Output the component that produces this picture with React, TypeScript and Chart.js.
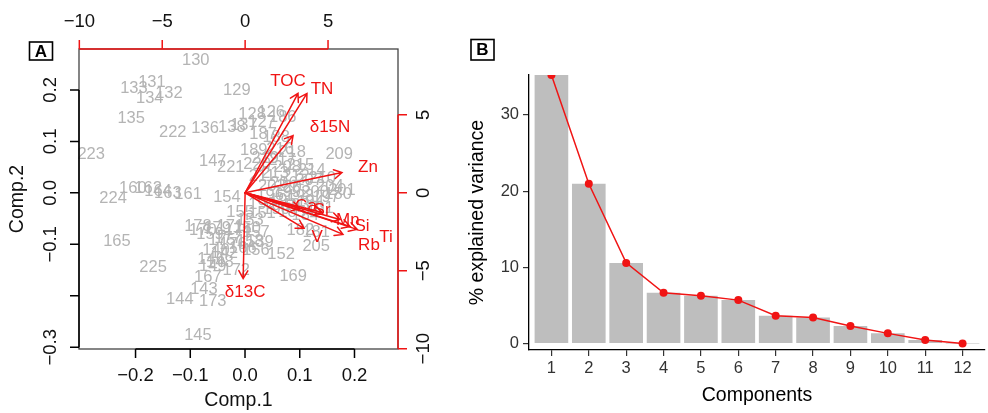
import { useEffect, useRef } from 'react';
import { Chart, registerables } from 'chart.js';

Chart.register(...registerables);

const FONT = '"Liberation Sans", Arial, Helvetica, sans-serif';
const RED = '#f01414';
const SAMPLE_GREY = '#b4b4b4';

// ---- Panel A: PCA biplot ----
const sampleIds = [
  '130', '131', '133', '134', '132', '129', '135', '222', '136', '138',
  '223', '147', '221', '154', '161', '163', '164', '162', '160', '224',
  '165', '225', '167', '143', '144', '173', '145', '169', '152', '205',
  '209', '128', '126', '127', '137', '187', '188', '189', '216', '218',
  '219', '220', '217', '215', '214', '208', '213', '212', '211', '210',
  '207', '206', '204', '203', '202', '201', '200', '199', '198', '197',
  '196', '195', '194', '193', '192', '191', '190', '185', '184', '182',
  '181', '180', '151', '155', '153', '150', '157', '158', '139', '156',
  '166', '178', '170', '159', '179', '171', '174', '177', '175', '176',
  '146', '148', '149', '172', '142', '140', '186',
];
const comp1 = [
  -0.090, -0.170, -0.203, -0.174, -0.139, -0.015, -0.208, -0.132, -0.073, -0.024,
  -0.281, -0.059, -0.026, -0.033, -0.104, -0.141, -0.159, -0.177, -0.205, -0.241,
  -0.234, -0.168, -0.068, -0.075, -0.119, -0.059, -0.086, 0.088, 0.066, 0.130,
  0.172, 0.013, 0.048, 0.031, -0.002, 0.033, 0.057, 0.016, 0.064, 0.086,
  0.037, 0.022, 0.068, 0.101, 0.122, 0.077, 0.055, 0.093, 0.031, 0.141,
  0.117, 0.071, 0.155, 0.095, 0.049, 0.177, 0.128, 0.077, 0.101, 0.148,
  0.046, 0.069, 0.119, 0.093, 0.031, 0.137, 0.057, 0.086, 0.110, 0.101,
  0.130, 0.170, 0.031, -0.009, 0.009, 0.004, 0.020, 0.009, 0.027, 0.020,
  -0.004, -0.086, -0.077, -0.064, -0.051, -0.027, -0.013, -0.031, -0.042, -0.022,
  -0.062, -0.046, -0.059, -0.016, -0.038, -0.053, 0.069,
];
const comp2 = [
  0.257, 0.214, 0.203, 0.184, 0.193, 0.199, 0.144, 0.117, 0.125, 0.127,
  0.074, 0.061, 0.049, -0.009, -0.003, -0.001, 0.003, 0.008, 0.008, -0.011,
  -0.095, -0.145, -0.165, -0.188, -0.207, -0.211, -0.277, -0.163, -0.120, -0.104,
  0.074, 0.152, 0.156, 0.137, 0.131, 0.113, 0.107, 0.082, 0.084, 0.078,
  0.067, 0.055, 0.063, 0.053, 0.043, 0.049, 0.038, 0.032, 0.032, 0.028,
  0.024, 0.018, 0.012, 0.010, 0.012, 0.005, 0.001, 0.001, -0.007, -0.009,
  -0.005, -0.015, -0.019, -0.025, -0.023, -0.031, -0.032, -0.038, -0.044, -0.073,
  -0.077, -0.003, -0.040, -0.038, -0.054, -0.069, -0.077, -0.095, -0.097, -0.112,
  -0.108, -0.066, -0.073, -0.081, -0.069, -0.066, -0.073, -0.089, -0.093, -0.100,
  -0.130, -0.135, -0.143, -0.151, -0.118, -0.112, 0.146,
];

const variables = ['TOC', 'TN', 'δ15N', 'δ13C', 'Zn', 'V', 'Ca', 'Sr', 'Mn', 'Si', 'Rb', 'Ti'];
// arrow tips on the loading axes (top / right)
const loadingX = [3.19, 3.73, 2.89, -0.12, 5.84, 3.55, 3.31, 4.64, 5.72, 6.33, 5.90, 6.75];
const loadingY = [6.37, 6.37, 3.67, -5.50, 1.30, -2.28, -1.01, -1.26, -1.71, -2.16, -2.67, -2.35];
// where each variable name sits, same units
const varLabelX = [2.59, 4.64, 5.12, 0.0, 7.41, 4.34, 3.67, 4.64, 6.20, 7.05, 7.47, 8.49];
const varLabelY = [7.13, 6.62, 4.19, -6.39, 1.62, -2.85, -0.88, -1.14, -1.78, -2.16, -3.38, -2.85];

const compTicks = [-0.2, -0.1, 0.0, 0.1, 0.2];
const compTickLabels = ['\u22120.2', '\u22120.1', '0.0', '0.1', '0.2'];
const comp2Ticks = [0.2, 0.1, 0.0, -0.1, -0.2, -0.3];
const comp2TickLabels = ['0.2', '0.1', '0.0', '\u22120.1', '', '\u22120.3'];
const loadTicks = [-10, -5, 0, 5];
const loadTickLabels = ['\u221210', '\u22125', '0', '5'];

// ---- Panel B: scree plot ----
const components = [1, 2, 3, 4, 5, 6, 7, 8, 9, 10, 11, 12];
const explainedVariance = [35.22, 20.97, 10.59, 6.67, 6.28, 5.71, 3.66, 3.44, 2.31, 1.35, 0.48, 0.03];

function panelTag(letter: string, x: number, y: number, w: number, h: number) {
  return {
    id: 'panelTag' + letter,
    afterDraw(chart: any) {
      const ctx = chart.ctx;
      ctx.save();
      ctx.strokeStyle = '#000';
      ctx.lineWidth = 1.6;
      ctx.strokeRect(x, y, w, h);
      ctx.fillStyle = '#000';
      ctx.font = `bold 17px ${FONT}`;
      ctx.textAlign = 'center';
      ctx.textBaseline = 'middle';
      ctx.fillText(letter, x + w / 2, y + h / 2 + 1);
      ctx.restore();
    },
  };
}

function rotatedText(ctx: CanvasRenderingContext2D, text: string, x: number, y: number) {
  ctx.save();
  ctx.translate(x, y);
  ctx.rotate(-Math.PI / 2);
  ctx.textAlign = 'center';
  ctx.textBaseline = 'middle';
  ctx.fillText(text, 0, 0);
  ctx.restore();
}

const biplotLayer = {
  id: 'biplotLayer',
  afterDraw(chart: any) {
    const ctx: CanvasRenderingContext2D = chart.ctx;
    const { x, y, x2, y2 } = chart.scales;
    const area = chart.chartArea;
    ctx.save();

    // sample names
    ctx.font = `16.5px ${FONT}`;
    ctx.fillStyle = SAMPLE_GREY;
    ctx.textAlign = 'center';
    ctx.textBaseline = 'middle';
    chart.getDatasetMeta(0).data.forEach((pt: any, i: number) => {
      ctx.fillText(sampleIds[i], pt.x, pt.y);
    });

    // loading arrows
    const ox = x2.getPixelForValue(0);
    const oy = y2.getPixelForValue(0);
    ctx.strokeStyle = RED;
    ctx.lineWidth = 1.5;
    ctx.lineCap = 'round';
    const head = 9;
    chart.getDatasetMeta(1).data.forEach((pt: any) => {
      const ang = Math.atan2(pt.y - oy, pt.x - ox);
      ctx.beginPath();
      ctx.moveTo(ox, oy);
      ctx.lineTo(pt.x, pt.y);
      ctx.moveTo(pt.x - head * Math.cos(ang - Math.PI / 6), pt.y - head * Math.sin(ang - Math.PI / 6));
      ctx.lineTo(pt.x, pt.y);
      ctx.lineTo(pt.x - head * Math.cos(ang + Math.PI / 6), pt.y - head * Math.sin(ang + Math.PI / 6));
      ctx.stroke();
    });
    ctx.font = `17px ${FONT}`;
    ctx.fillStyle = RED;
    variables.forEach((v, i) => {
      ctx.fillText(v, x2.getPixelForValue(varLabelX[i]), y2.getPixelForValue(varLabelY[i]));
    });

    // frame
    ctx.lineCap = 'butt';
    ctx.strokeStyle = '#444';
    ctx.lineWidth = 1.3;
    ctx.strokeRect(area.left, area.top, area.right - area.left, area.bottom - area.top);

    const tick = 9;
    ctx.font = `18.5px ${FONT}`;
    ctx.fillStyle = '#111';

    // bottom axis (Comp.1)
    ctx.strokeStyle = '#000';
    ctx.lineWidth = 1.5;
    ctx.beginPath();
    ctx.moveTo(x.getPixelForValue(compTicks[0]), area.bottom);
    ctx.lineTo(x.getPixelForValue(compTicks[compTicks.length - 1]), area.bottom);
    compTicks.forEach((t) => {
      const px = x.getPixelForValue(t);
      ctx.moveTo(px, area.bottom);
      ctx.lineTo(px, area.bottom + tick);
    });
    ctx.stroke();
    compTicks.forEach((t, i) => {
      ctx.fillText(compTickLabels[i], x.getPixelForValue(t), area.bottom + 27);
    });

    // left axis (Comp.2)
    ctx.beginPath();
    ctx.moveTo(area.left, y.getPixelForValue(comp2Ticks[0]));
    ctx.lineTo(area.left, y.getPixelForValue(comp2Ticks[comp2Ticks.length - 1]));
    comp2Ticks.forEach((t) => {
      const py = y.getPixelForValue(t);
      ctx.moveTo(area.left, py);
      ctx.lineTo(area.left - tick, py);
    });
    ctx.stroke();
    comp2Ticks.forEach((t, i) => {
      if (comp2TickLabels[i]) rotatedText(ctx, comp2TickLabels[i], area.left - 28, y.getPixelForValue(t));
    });

    // top axis (loadings)
    ctx.strokeStyle = RED;
    ctx.beginPath();
    ctx.moveTo(x2.getPixelForValue(loadTicks[0]), area.top);
    ctx.lineTo(x2.getPixelForValue(loadTicks[loadTicks.length - 1]), area.top);
    loadTicks.forEach((t) => {
      const px = x2.getPixelForValue(t);
      ctx.moveTo(px, area.top);
      ctx.lineTo(px, area.top - tick);
    });
    ctx.stroke();
    loadTicks.forEach((t, i) => {
      ctx.fillText(loadTickLabels[i], x2.getPixelForValue(t), area.top - 27);
    });

    // right axis (loadings)
    ctx.beginPath();
    ctx.moveTo(area.right, y2.getPixelForValue(loadTicks[loadTicks.length - 1]));
    ctx.lineTo(area.right, y2.getPixelForValue(loadTicks[0]));
    loadTicks.forEach((t) => {
      const py = y2.getPixelForValue(t);
      ctx.moveTo(area.right, py);
      ctx.lineTo(area.right + tick, py);
    });
    ctx.stroke();
    loadTicks.forEach((t, i) => {
      rotatedText(ctx, loadTickLabels[i], area.right + 26, y2.getPixelForValue(t));
    });

    // axis titles
    ctx.font = `19.5px ${FONT}`;
    ctx.fillStyle = '#111';
    ctx.fillText('Comp.1', (area.left + area.right) / 2, 401);
    rotatedText(ctx, 'Comp.2', 18, (area.top + area.bottom) / 2);

    ctx.restore();
  },
};

export default function App() {
  const refA = useRef<HTMLCanvasElement>(null);
  const refB = useRef<HTMLCanvasElement>(null);

  useEffect(() => {
    const hidden = { display: false };
    const biplot = new Chart(refA.current!, {
      type: 'scatter',
      data: {
        datasets: [
          {
            data: comp1.map((v, i) => ({ x: v, y: comp2[i] })),
            pointRadius: 0,
            xAxisID: 'x',
            yAxisID: 'y',
          },
          {
            data: loadingX.map((v, i) => ({ x: v, y: loadingY[i] })),
            pointRadius: 0,
            xAxisID: 'x2',
            yAxisID: 'y2',
          },
        ],
      },
      options: {
        animation: false,
        responsive: false,
        devicePixelRatio: 1,
        events: [],
        layout: { padding: { left: 79, right: 52, top: 49, bottom: 64 }, autoPadding: false },
        plugins: { legend: hidden, tooltip: { enabled: false } },
        scales: {
          x: { type: 'linear', position: 'bottom', min: -0.3033, max: 0.2795, ...hidden },
          y: { type: 'linear', position: 'left', min: -0.3033, max: 0.2795, ...hidden },
          x2: { type: 'linear', position: 'top', min: -10.02, max: 9.22, ...hidden },
          y2: { type: 'linear', position: 'right', min: -10.02, max: 9.22, ...hidden },
        },
      },
      plugins: [biplotLayer, panelTag('A', 29.5, 42, 23, 18)],
    });

    const tickFont = { family: FONT, size: 16.5 };
    const titleFont = { family: FONT, size: 19.5 };
    const scree = new Chart(refB.current!, {
      type: 'bar',
      data: {
        datasets: [
          {
            type: 'line',
            data: components.map((c, i) => ({ x: c, y: explainedVariance[i] })),
            borderColor: RED,
            backgroundColor: RED,
            borderWidth: 1.5,
            pointRadius: 4,
            pointBorderWidth: 0,
            tension: 0,
            order: 0,
          },
          {
            type: 'bar',
            data: components.map((c, i) => ({ x: c, y: explainedVariance[i] })),
            backgroundColor: '#bebebe',
            borderWidth: 0,
            categoryPercentage: 1,
            barPercentage: 0.9,
            order: 1,
          },
        ] as any,
      },
      options: {
        animation: false,
        responsive: false,
        devicePixelRatio: 1,
        events: [],
        layout: { padding: { left: 0, right: 3, top: 75, bottom: 0 }, autoPadding: false },
        plugins: { legend: hidden, tooltip: { enabled: false } },
        scales: {
          x: {
            type: 'linear',
            min: 0.4,
            max: 12.6,
            offset: false,
            grid: { display: true, offset: false, drawOnChartArea: false, drawTicks: true, tickLength: 6, color: '#333', lineWidth: 1.2 },
            border: { display: true, color: '#000', width: 1.3 },
            ticks: { stepSize: 1, includeBounds: false, autoSkip: false, maxRotation: 0, font: tickFont, color: '#333', padding: 3 },
            title: { display: true, text: 'Components', font: titleFont, color: '#000', padding: { top: 0, bottom: 6 } },
            afterFit: (s: any) => {
              s.height = 63;
              s.paddingLeft = 0;
              s.paddingRight = 0;
            },
          },
          y: {
            type: 'linear',
            min: -0.83,
            max: 35.22,
            grid: { display: true, drawOnChartArea: false, drawTicks: true, tickLength: 6, color: '#333', lineWidth: 1.2 },
            border: { display: true, color: '#000', width: 1.3 },
            ticks: { stepSize: 10, includeBounds: false, font: tickFont, color: '#333', padding: 4 },
            title: { display: true, text: '% explained variance', font: titleFont, color: '#000', padding: { top: 16, bottom: 0 } },
            afterFit: (s: any) => {
              s.width = 79;
              s.paddingTop = 0;
              s.paddingBottom = 0;
            },
          },
        },
      },
      plugins: [panelTag('B', 21, 39.5, 23, 20.5)],
    });

    return () => {
      biplot.destroy();
      scree.destroy();
    };
  }, []);

  return (
    <div style={{ position: 'absolute', left: 0, top: 0, width: 988, height: 413, background: '#fff', overflow: 'hidden' }}>
      <canvas ref={refA} width={450} height={413} style={{ position: 'absolute', left: 0, top: 0 }} />
      <canvas ref={refB} width={538} height={413} style={{ position: 'absolute', left: 450, top: 0 }} />
    </div>
  );
}
